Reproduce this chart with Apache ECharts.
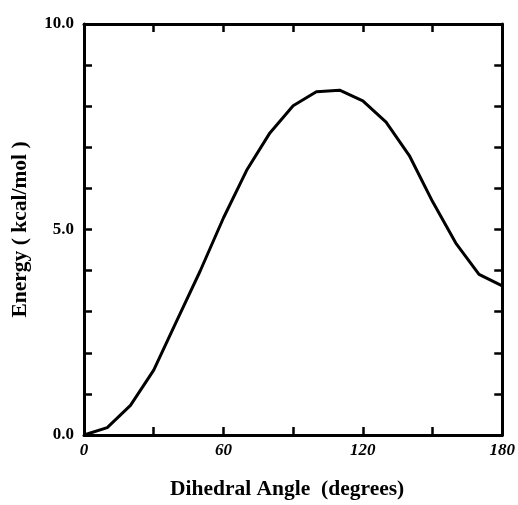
<!DOCTYPE html>
<html>
<head>
<meta charset="utf-8">
<script src="https://cdn.jsdelivr.net/npm/echarts@6/dist/echarts.min.js"></script>
<style>html,body{margin:0;padding:0;background:#fff}#c{width:518px;height:505px}</style>
</head>
<body>
<div id="c"></div>
<script>
var angles = [0, 10, 20, 30, 40, 50, 60, 70, 80, 90, 100, 110, 120, 130, 140, 150, 160, 170, 180];
var energies = [0.0, 0.18, 0.72, 1.58, 2.79, 3.99, 5.28, 6.44, 7.35, 8.01, 8.35, 8.39, 8.13, 7.61, 6.80, 5.68, 4.67, 3.91, 3.63];
var xTitle = 'Dihedral Angle  (degrees)';
var yTitle = 'Energy ( kcal/mol )';

var font = '"Liberation Serif", "DejaVu Serif", serif';
var points = angles.map(function (a, i) { return [a, energies[i]]; });
var chart = echarts.init(document.getElementById('c'));
var axisLine = { show: true, onZero: false, lineStyle: { color: '#000', width: 3 } };
var tick = { show: true, inside: true, length: 8, lineStyle: { color: '#000', width: 2.5 } };
chart.setOption({
  animation: false,
  backgroundColor: '#fff',
  grid: { left: 84, right: 14, top: 24, bottom: 66, containLabel: false },
  xAxis: [{
    type: 'value', min: 0, max: 180, interval: 30, position: 'bottom',
    name: xTitle, nameLocation: 'middle', nameGap: 43,
    nameTextStyle: { fontFamily: font, fontWeight: 'bold', fontSize: 21.5, color: '#000', padding: [0, 12, 0, 0] },
    axisLine: axisLine, axisTick: tick, splitLine: { show: false },
    axisLabel: { margin: 7, fontFamily: font, fontWeight: 'bold', fontStyle: 'italic', fontSize: 17, color: '#000',
      formatter: function (v) { return v % 60 === 0 ? String(v) : ''; } }
  }, {
    type: 'value', min: 0, max: 180, interval: 30, position: 'top',
    axisLine: axisLine, axisTick: tick, splitLine: { show: false }, axisLabel: { show: false }
  }],
  yAxis: [{
    type: 'value', min: 0, max: 10, interval: 1, position: 'left',
    name: yTitle, nameLocation: 'middle', nameGap: 53,
    nameTextStyle: { fontFamily: font, fontWeight: 'bold', fontSize: 21.5, color: '#000' },
    axisLine: axisLine, axisTick: tick, splitLine: { show: false },
    axisLabel: { margin: 10, fontFamily: font, fontWeight: 'bold', fontSize: 17, color: '#000', padding: [0, 0, 9, 0],
      formatter: function (v) { return v % 5 === 0 ? v.toFixed(1) : ''; } }
  }, {
    type: 'value', min: 0, max: 10, interval: 1, position: 'right',
    axisLine: axisLine, axisTick: tick, splitLine: { show: false }, axisLabel: { show: false }
  }],
  series: [{
    type: 'line', data: points, xAxisIndex: 0, yAxisIndex: 0,
    showSymbol: false, symbol: 'none', smooth: false,
    lineStyle: { color: '#000', width: 3 }
  }]
});
</script>
</body>
</html>
